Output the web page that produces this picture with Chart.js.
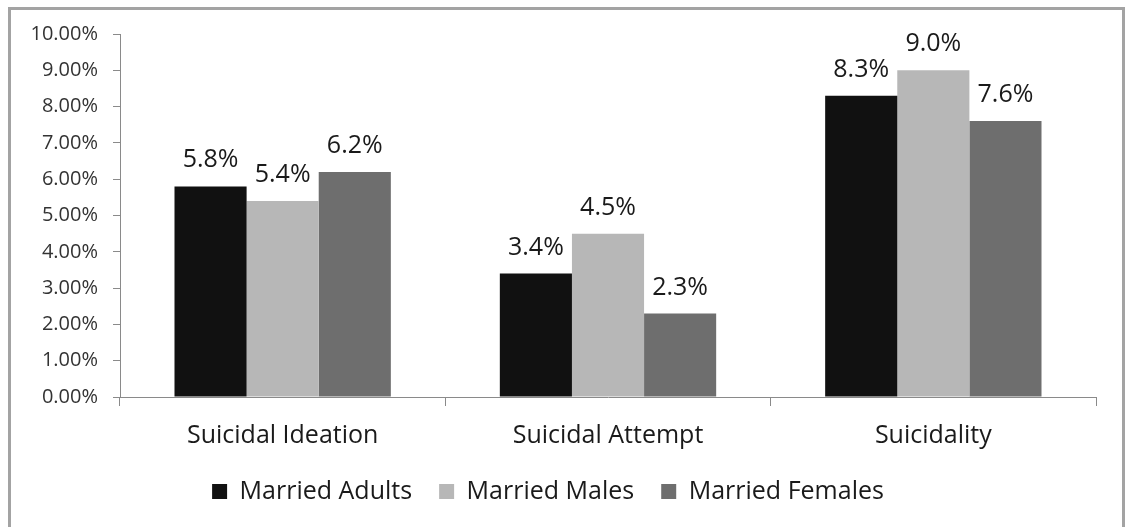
<!DOCTYPE html>
<html>
<head>
<meta charset="utf-8">
<title>Suicidal ideation, attempt and suicidality among married adults</title>
<script src="https://cdn.jsdelivr.net/npm/chart.js@4/dist/chart.umd.min.js"></script>
<style>
  html, body { margin: 0; padding: 0; background: #fff; overflow: hidden; }
  .frame {
    position: absolute; left: 8px; top: 7px;
    width: 1117px; height: 540px;
    box-sizing: border-box;
    border: 3px solid #a3a3a3;
  }
  .wrap { position: absolute; left: 0; top: 0; width: 1128px; height: 527px; }
</style>
</head>
<body>
<div class="frame"></div>
<div class="wrap"><canvas id="chart"></canvas></div>
<script>
// Chart data
const categories = ["Suicidal Ideation", "Suicidal Attempt", "Suicidality"];
const marriedAdults = [5.8, 3.4, 8.3];
const marriedMales = [5.4, 4.5, 9.0];
const marriedFemales = [6.2, 2.3, 7.6];
const seriesNames = ["Married Adults", "Married Males", "Married Females"];

const FONT = "'Open Sans', 'Liberation Sans', sans-serif";

// Draw the percentage above each bar
const barValueLabels = {
  id: "barValueLabels",
  afterDatasetsDraw(chart) {
    const ctx = chart.ctx;
    ctx.save();
    ctx.font = "25px " + FONT;
    ctx.fillStyle = "#1a1a1a";
    ctx.textAlign = "center";
    ctx.textBaseline = "alphabetic";
    chart.data.datasets.forEach((ds, i) => {
      const meta = chart.getDatasetMeta(i);
      meta.data.forEach((bar, j) => {
        ctx.fillText(ds.data[j].toFixed(1) + "%", bar.x, bar.y - 19);
      });
    });
    ctx.restore();
  }
};

new Chart(document.getElementById("chart"), {
  type: "bar",
  data: {
    labels: categories,
    datasets: [
      { label: seriesNames[0], data: marriedAdults, backgroundColor: "#111111" },
      { label: seriesNames[1], data: marriedMales, backgroundColor: "#b7b7b7" },
      { label: seriesNames[2], data: marriedFemales, backgroundColor: "#6e6e6e" }
    ]
  },
  options: {
    responsive: true,
    maintainAspectRatio: false,
    animation: false,
    layout: { padding: { top: 34, left: 0, right: 32, bottom: 13 } },
    datasets: {
      bar: { categoryPercentage: 0.665, barPercentage: 1.0, borderWidth: 0 }
    },
    plugins: {
      tooltip: { enabled: false },
      legend: {
        position: "bottom",
        labels: {
          color: "#1a1a1a",
          font: { family: FONT, size: 25 },
          boxWidth: 15,
          boxHeight: 15,
          padding: 27
        }
      }
    },
    scales: {
      x: {
        afterFit(scale) { scale.height = 55; },
        grid: {
          drawOnChartArea: false,
          offset: true,
          color: "#8a8a8a",
          tickLength: 9
        },
        border: { color: "#8a8a8a", width: 1 },
        ticks: {
          color: "#1a1a1a",
          font: { family: FONT, size: 25 },
          padding: 15,
          maxRotation: 0
        }
      },
      y: {
        min: 0,
        max: 10,
        afterFit(scale) { scale.width = 120; },
        grid: {
          drawOnChartArea: false,
          color: "#8a8a8a",
          tickLength: 7
        },
        border: { color: "#8a8a8a", width: 1 },
        ticks: {
          stepSize: 1,
          color: "#333333",
          font: { family: FONT, size: 20 },
          padding: 15,
          callback: v => v.toFixed(2) + "%"
        }
      }
    }
  },
  plugins: [barValueLabels]
});
</script>
</body>
</html>
